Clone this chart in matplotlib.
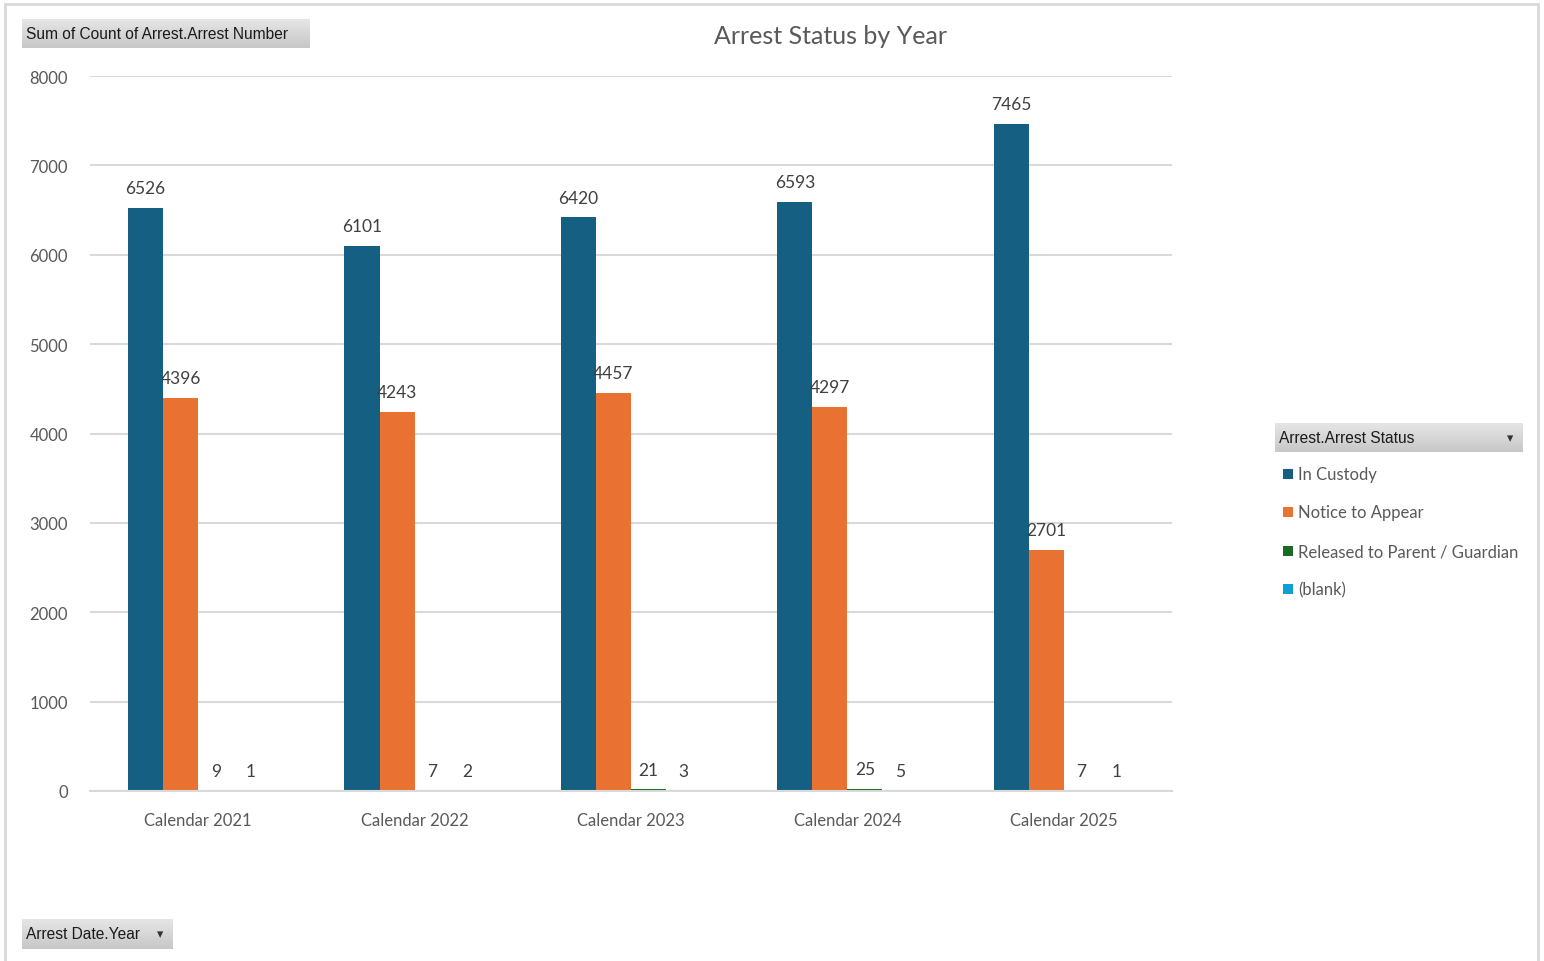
import numpy as np
import matplotlib
matplotlib.use("Agg")
import matplotlib.pyplot as plt
from matplotlib.patches import Rectangle

# data
years = ["Calendar 2021", "Calendar 2022", "Calendar 2023", "Calendar 2024", "Calendar 2025"]
status_names = ["In Custody", "Notice to Appear", "Released to Parent / Guardian", "(blank)"]
in_custody = [6526, 6101, 6420, 6593, 7465]
notice_to_appear = [4396, 4243, 4457, 4297, 2701]
released_parent = [9, 7, 21, 25, 7]
blank_status = [1, 2, 3, 5, 1]
y_ticks = [0, 1000, 2000, 3000, 4000, 5000, 6000, 7000, 8000]

series = [in_custody, notice_to_appear, released_parent, blank_status]
colors = ["#156082", "#E97132", "#196B24", "#0F9ED5"]
text_gray = "#595959"
chart_font = ["Lato", "DejaVu Sans"]
button_font = ["Liberation Sans", "DejaVu Sans"]

fig = plt.figure(figsize=(15.44, 9.62), dpi=100)
W, H = 1544, 962


def fx(px):
    return px / W


def fy(py):
    return 1 - py / H


# outer chart border
fig.patches.append(Rectangle((fx(5), fy(970)), fx(1533), 965 / H, transform=fig.transFigure,
                             fill=False, edgecolor="#d9d9d9", linewidth=2))

ax = fig.add_axes([fx(90), fy(792), fx(1172 - 90), (792 - 77) / H])
x = np.arange(len(years))
w = 0.162
offsets = [-1.5 * w, -0.5 * w, 0.5 * w, 1.5 * w]

for vals, off, col in zip(series, offsets, colors):
    bars = ax.bar(x + off, vals, width=w, color=col, zorder=3)
    for b, v in zip(bars, vals):
        ax.text(b.get_x() + b.get_width() / 2, v + 130, str(v), ha="center", va="bottom",
                fontsize=12.5, color="#404040", family=chart_font, zorder=4)

ax.set_xlim(-0.5, len(years) - 0.5)
ax.set_ylim(0, 8000)
ax.set_yticks(y_ticks)
ax.set_yticklabels([str(t) for t in y_ticks], fontsize=12, color=text_gray, family=chart_font)
ax.set_xticks(x)
ax.set_xticklabels(years, fontsize=12, color=text_gray, family=chart_font)
ax.tick_params(axis="both", length=0)
ax.tick_params(axis="y", pad=16)
ax.tick_params(axis="x", pad=15)
ax.grid(axis="y", color="#d9d9d9", linewidth=1.5, zorder=0)
for s in ["top", "right", "left"]:
    ax.spines[s].set_visible(False)
ax.spines["bottom"].set_color("#d9d9d9")
ax.spines["bottom"].set_linewidth(1.5)
ax.spines["bottom"].set_zorder(3.5)
ax.set_facecolor("none")

fig.text(fx(831), fy(37), "Arrest Status by Year", ha="center", va="center",
         fontsize=18, color=text_gray, family=chart_font)


def field_button(x0, y0, x1, y1, label, arrow=False, size=11.2):
    bax = fig.add_axes([fx(x0), fy(y1), fx(x1 - x0), (y1 - y0) / H])
    grad = np.linspace(0.9, 0.78, 50).reshape(-1, 1)
    bax.imshow(grad, aspect="auto", cmap="gray", vmin=0, vmax=1, extent=[0, 1, 0, 1])
    bax.set_xlim(0, 1)
    bax.set_ylim(0, 1)
    bax.axis("off")
    fig.text(fx(x0 + 4), fy((y0 + y1) / 2), label, ha="left", va="center",
             fontsize=size, color="#1a1a1a", family=button_font)
    if arrow:
        fig.text(fx(x1 - 13), fy((y0 + y1) / 2), "\u25BE", ha="center", va="center",
                 fontsize=9, color="#333333", family=["DejaVu Sans"])


field_button(22, 20, 310, 49, "Sum of Count of Arrest.Arrest Number")
field_button(22, 920, 173, 950, "Arrest Date.Year", arrow=True)
field_button(1275, 424, 1523, 453, "Arrest.Arrest Status", arrow=True)

# legend entries
leg_y = [475, 513, 552, 590]
for name, col, ly in zip(status_names, colors, leg_y):
    fig.patches.append(Rectangle((fx(1283), fy(ly + 5)), fx(10), 10 / H, transform=fig.transFigure,
                                 facecolor=col, edgecolor="none"))
    fig.text(fx(1298), fy(ly), name, ha="left", va="center", fontsize=12,
             color=text_gray, family=chart_font)

fig.savefig("out.png", dpi=100, facecolor="white")
